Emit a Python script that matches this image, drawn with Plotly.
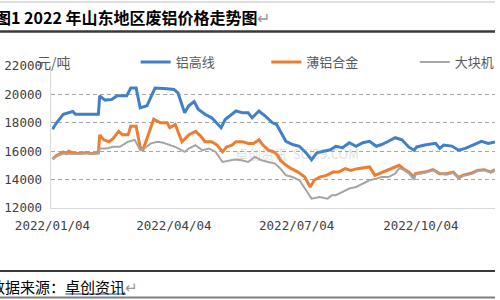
import plotly.graph_objects as go

# ---------------- data ----------------
blue_dates = ["2022-01-04","2022-01-07","2022-01-12","2022-01-19","2022-01-21","2022-02-07","2022-02-08","2022-02-12",
              "2022-02-17","2022-02-21","2022-02-28","2022-03-03","2022-03-07","2022-03-10","2022-03-15","2022-03-21",
              "2022-03-30","2022-04-04","2022-04-07","2022-04-12","2022-04-15","2022-04-19","2022-04-22","2022-04-27",
              "2022-05-02","2022-05-09","2022-05-12","2022-05-17","2022-05-20","2022-05-25","2022-05-29","2022-06-01",
              "2022-06-06","2022-06-11","2022-06-16","2022-06-19","2022-06-22","2022-06-26","2022-07-01","2022-07-06",
              "2022-07-11","2022-07-15","2022-07-19","2022-07-24","2022-07-29","2022-08-02","2022-08-07","2022-08-12",
              "2022-08-17","2022-08-22","2022-08-27","2022-09-01","2022-09-05","2022-09-10","2022-09-15","2022-09-20",
              "2022-09-25","2022-09-29","2022-10-01","2022-10-07","2022-10-15","2022-10-18","2022-10-21","2022-10-27",
              "2022-11-01","2022-11-06","2022-11-11","2022-11-18","2022-11-23","2022-11-28"]
blue_vals = [17550,18000,18600,18800,18600,18600,19900,19600,19650,19900,19900,20450,20450,19050,19200,20450,
             20400,20350,20100,18700,19200,19500,18950,18600,18350,17650,18230,18600,18830,18700,18700,18350,
             18830,18450,18000,17900,17350,16700,16470,16350,15880,15400,15880,16000,16100,16350,16250,16600,
             16350,16600,16700,16350,16470,16700,16950,16800,16300,16070,16300,16430,16550,16200,16430,16360,
             16070,16200,16430,16700,16550,16650]

orange_dates = ["2022-01-04","2022-01-07","2022-01-12","2022-01-14","2022-01-16","2022-01-19","2022-01-24","2022-01-29",
                "2022-02-02","2022-02-07","2022-02-08","2022-02-11","2022-02-15","2022-02-18","2022-02-22","2022-02-25",
                "2022-03-01","2022-03-03","2022-03-07","2022-03-10","2022-03-12","2022-03-15","2022-03-20","2022-03-25",
                "2022-03-30","2022-04-01","2022-04-05","2022-04-10","2022-04-15","2022-04-20","2022-04-24","2022-04-27",
                "2022-05-02","2022-05-06","2022-05-10","2022-05-13","2022-05-17","2022-05-20","2022-05-25","2022-05-29",
                "2022-06-02","2022-06-06","2022-06-09","2022-06-13","2022-06-17","2022-06-20","2022-06-22","2022-06-25",
                "2022-06-30","2022-07-05","2022-07-10","2022-07-14","2022-07-17","2022-07-21","2022-07-26","2022-07-31",
                "2022-08-04","2022-08-09","2022-08-13","2022-08-18","2022-08-22","2022-08-27","2022-08-31","2022-09-03",
                "2022-09-08","2022-09-15","2022-09-18","2022-09-21","2022-09-25","2022-09-29","2022-09-30","2022-10-07",
                "2022-10-13","2022-10-18","2022-10-23","2022-10-28","2022-11-01","2022-11-04","2022-11-11","2022-11-15",
                "2022-11-20","2022-11-25","2022-11-28"]
orange_vals = [15450,15700,15950,15830,16000,15880,15830,15900,15830,15880,17150,16800,16670,16900,17400,17150,
               17150,17750,17750,16300,16070,16900,18250,18000,18000,17650,17880,16670,17150,17400,17050,16670,
               16670,16430,15950,16300,16430,16670,16670,16550,16550,16800,16430,16070,15950,15700,15350,15100,
               14770,14530,14180,13480,13950,14180,14300,14530,14530,14770,14650,14770,14840,14890,14300,14420,
               14650,14890,15010,14770,14530,14180,14420,14530,14700,14420,14420,14530,14140,14300,14470,14650,
               14700,14530,14700]

gray_dates = ["2022-01-04","2022-01-07","2022-01-12","2022-01-20","2022-01-28","2022-02-07","2022-02-08","2022-02-13",
              "2022-02-18","2022-02-23","2022-03-01","2022-03-06","2022-03-10","2022-03-13","2022-03-18","2022-03-23",
              "2022-03-27","2022-04-01","2022-04-05","2022-04-12","2022-04-15","2022-04-20","2022-04-25","2022-04-30",
              "2022-05-05","2022-05-10","2022-05-15","2022-05-19","2022-05-24","2022-05-29","2022-06-03","2022-06-08",
              "2022-06-13","2022-06-18","2022-06-22","2022-06-26","2022-07-01","2022-07-06","2022-07-11","2022-07-15",
              "2022-07-21","2022-07-27","2022-07-30","2022-08-02","2022-08-07","2022-08-12","2022-08-17","2022-08-22",
              "2022-08-27","2022-09-01","2022-09-05","2022-09-10","2022-09-15","2022-09-18","2022-09-21","2022-09-25",
              "2022-09-29","2022-09-30","2022-10-07","2022-10-13","2022-10-18","2022-10-23","2022-10-28","2022-11-01",
              "2022-11-04","2022-11-11","2022-11-15","2022-11-20","2022-11-25","2022-11-28"]
gray_vals = [15450,15640,15830,15800,15830,15830,16190,16190,16310,16310,16670,16800,16070,16190,16550,16670,
             16600,16430,16310,15950,16190,16430,16070,16190,15950,15240,15360,15410,15360,15240,15590,15360,
             15240,15130,14770,14300,14180,13950,13250,12660,12780,12660,12900,12900,13130,13370,13480,13720,
             13950,14070,14180,14180,14420,14800,14700,14450,14000,14350,14480,14650,14450,14350,14480,14100,
             14250,14400,14600,14650,14500,14650]

series_names = ["铝高线", "薄铝合金", "大块机"]
tick_dates = ["2022-01-04", "2022-04-04", "2022-07-04", "2022-10-04"]
tick_labels = ["2022/01/04", "2022/04/04", "2022/07/04", "2022/10/04"]
y_ticks = [12000, 14000, 16000, 18000, 20000, 22000]

title_text = "图1 2022 年山东地区废铝价格走势图"
source_label = "数据来源："
source_name = "卓创资讯"
unit_text = "元/吨"

# ---------------- helpers (pixel -> paper) ----------------
W, H = 500, 300
def fx(px): return px / W
def fy(py): return 1 - py / H

CJK = "Noto Sans CJK SC"
NUM = "DejaVu Sans Mono"

fig = go.Figure()
fig.add_trace(go.Scatter(x=blue_dates, y=blue_vals, name=series_names[0], mode="lines",
                         line=dict(color="#4180C8", width=3), legend="legend"))
fig.add_trace(go.Scatter(x=orange_dates, y=orange_vals, name=series_names[1], mode="lines",
                         line=dict(color="#ED7D31", width=3), legend="legend2"))
fig.add_trace(go.Scatter(x=gray_dates, y=gray_vals, name=series_names[2], mode="lines",
                         line=dict(color="#A5A5A5", width=2), legend="legend3"))

leg_common = dict(orientation="h", xanchor="left", yanchor="middle", bgcolor="rgba(0,0,0,0)",
                  borderwidth=0, itemwidth=30, font=dict(family=CJK, size=13, color="#595959"))

fig.update_layout(
    width=W, height=H, margin=dict(l=0, r=0, t=0, b=0),
    paper_bgcolor="white", plot_bgcolor="white",
    showlegend=True,
    xaxis=dict(domain=[fx(52), 1], type="date", range=["2022-01-03 06:00", "2022-11-28"],
               tickmode="array", tickvals=tick_dates, ticktext=tick_labels,
               showgrid=False, zeroline=False, showline=True, linecolor="#D9D9D9", linewidth=1,
               ticks="", ticklabelstandoff=6,
               tickfont=dict(family=NUM, size=12.5, color="#404040"), automargin=False),
    yaxis=dict(domain=[fy(208), fy(66)], range=[12000, 22000],
               tickmode="array", tickvals=y_ticks, tickformat="d",
               showgrid=True, gridcolor="#A6A6A6", gridwidth=1, griddash="4px,3px",
               zeroline=False, showline=True, linecolor="#D9D9D9", linewidth=1,
               ticks="", ticklabelstandoff=6,
               tickfont=dict(family=NUM, size=12.5, color="#404040"), automargin=False),
    legend=dict(x=fx(137), y=fy(62), **leg_common),
    legend2=dict(x=fx(269), y=fy(62), **leg_common),
    legend3=dict(x=fx(419), y=fy(62), **leg_common),
)

# decorative rules of the document page
rules = [
    dict(y=2, color="#BFBFBF", w=1),
    dict(y=31.5, color="#3A3A3A", w=2.5),
    dict(y=271, color="#3A3A3A", w=2),
    dict(y=297.5, color="#7F7F7F", w=2),
]
for r in rules:
    fig.add_shape(type="line", xref="paper", yref="paper", x0=0, x1=1, y0=fy(r["y"]), y1=fy(r["y"]),
                  line=dict(color=r["color"], width=r["w"]))
# blue hyperlink-style underline under the source name
fig.add_shape(type="line", xref="paper", yref="paper", x0=fx(66), x1=fx(127), y0=fy(294), y1=fy(294),
              line=dict(color="#5B7FD0", width=1.5))

fig.add_annotation(xref="paper", yref="paper", x=fx(-7), y=fy(17), xanchor="left", yanchor="middle",
                   text="<b>" + title_text + "</b><span style='color:#999'>↵</span>", showarrow=False,
                   font=dict(family=CJK, size=16, color="#000000"))
fig.add_annotation(xref="paper", yref="paper", x=fx(-12), y=fy(286), xanchor="left", yanchor="middle",
                   text=source_label + source_name + "<span style='color:#999'>↵</span>", showarrow=False,
                   font=dict(family=CJK, size=15, color="#000000"))
fig.add_annotation(xref="paper", yref="paper", x=fx(35), y=fy(62), xanchor="left", yanchor="middle",
                   text=unit_text, showarrow=False, font=dict(family=CJK, size=14, color="#595959"))
fig.add_annotation(xref="paper", yref="paper", x=fx(300), y=fy(153), xanchor="center", yanchor="middle",
                   text="卓创资讯  SCI99.COM", showarrow=False,
                   font=dict(family=CJK, size=13, color="rgba(160,160,160,0.35)"))

fig.write_html("out.html")
